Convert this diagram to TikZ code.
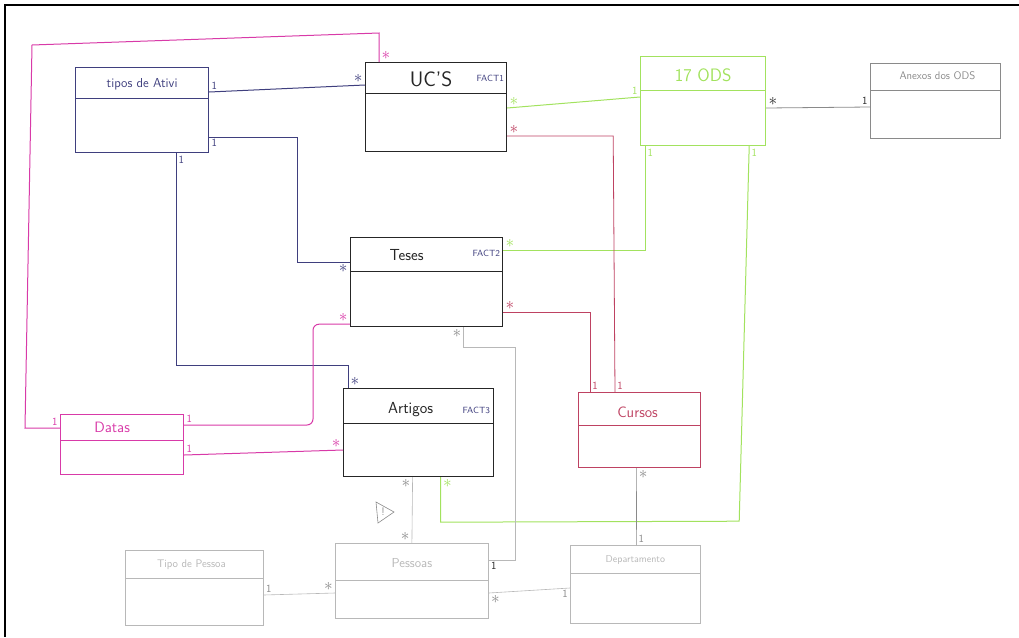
\documentclass[tikz,border=0pt]{standalone}
\usetikzlibrary{calc, positioning}
\definecolor{navyink}{HTML}{3F3F7E}
\definecolor{blackink}{HTML}{262626}
\definecolor{pinkink}{HTML}{D83AA8}
\definecolor{greenink}{HTML}{A2E25E}
\definecolor{redink}{HTML}{BE4262}
\definecolor{grayink}{HTML}{8A8A8A}
\definecolor{paleink}{HTML}{B8B8B8}
\newcommand{\many}{\raisebox{-1.5pt}{\fontsize{16}{16}\selectfont$\ast$}}
\tikzset{
  classbox/.style={draw, line width=1.2pt, anchor=north west, inner sep=0pt},
  classtitle/.style={font=\sffamily\fontsize{#1}{#1}\selectfont, inner sep=1pt},
  facttag/.style={font=\sffamily\fontsize{9}{9}\selectfont, text=navyink, inner sep=1pt},
  mult/.style={font=\sffamily\fontsize{11}{11}\selectfont, inner sep=2pt},
  link/.style={line width=1pt},
}
\begin{document}
\begin{tikzpicture}[x=1pt, y=-1pt]
\useasboundingbox (0,0) rectangle (1019,637);
\draw[line width=2pt] (1019,5) -- (5,5) -- (5,637);

\node[classbox, navyink, minimum width=133, minimum height=85] (tipos) at (75,67) {};
\node[classbox, blackink, minimum width=141, minimum height=89] (ucs) at (365,62) {};
\node[classbox, greenink, minimum width=125, minimum height=89] (ods) at (640,56) {};
\node[classbox, grayink, line width=0.8pt, minimum width=130, minimum height=75] (anexos) at (870,63) {};
\node[classbox, blackink, minimum width=152, minimum height=89] (teses) at (350,237) {};
\node[classbox, blackink, minimum width=150, minimum height=88] (artigos) at (343,388) {};
\node[classbox, pinkink, minimum width=123, minimum height=60] (datas) at (60,414) {};
\node[classbox, redink, minimum width=122, minimum height=75] (cursos) at (578,392) {};
\node[classbox, paleink, line width=0.8pt, minimum width=138, minimum height=75] (tipopes) at (125,550) {};
\node[classbox, paleink, line width=0.8pt, minimum width=153, minimum height=75] (pessoas) at (335,543) {};
\node[classbox, paleink, line width=0.8pt, minimum width=130, minimum height=78] (depto) at (570,545) {};

\foreach \b/\d/\c in {tipos/31/navyink, ucs/31/blackink, ods/34/greenink, anexos/27/grayink,
    teses/34/blackink, artigos/35/blackink, datas/26/pinkink, cursos/33/redink,
    tipopes/28/paleink, pessoas/37/paleink, depto/28/paleink}
  \draw[\c, line width=1pt] ($(\b.north west)+(0,\d)$) -- ($(\b.north east)+(0,\d)$);

\node[classtitle=13, text=navyink] (tipos-t) at ($(tipos.north)+(0,17)$) {tipos de Ativi};
\node[classtitle=21, text=blackink] (ucs-t) at ($(ucs.north)+(-5,17)$) {UC'S};
\node[facttag, anchor=east] (ucs-f) at ($(ucs.north east)+(-2,16)$) {FACT1};
\node[classtitle=18, text=greenink] (ods-t) at ($(ods.north)+(0,19)$) {17 ODS};
\node[classtitle=11, text=grayink] (anexos-t) at ($(anexos.north)+(2,13)$) {Anexos dos ODS};
\node[classtitle=16, text=blackink] (teses-t) at ($(teses.north)+(-20,18)$) {Teses};
\node[facttag, anchor=east] (teses-f) at ($(teses.north east)+(-2,16)$) {FACT2};
\node[classtitle=16, text=blackink] (artigos-t) at ($(artigos.north)+(-8,22)$) {Artigos};
\node[facttag, anchor=east] (artigos-f) at ($(artigos.north east)+(-3,22)$) {FACT3};
\node[classtitle=15, text=pinkink] (datas-t) at ($(datas.north)+(-10,13)$) {Datas};
\node[classtitle=15, text=redink] (cursos-t) at ($(cursos.north)+(-2,20)$) {Cursos};
\node[classtitle=11, text=paleink] (tipopes-t) at ($(tipopes.north)+(-3,15)$) {Tipo de Pessoa};
\node[classtitle=13, text=paleink] (pessoas-t) at ($(pessoas.north)+(0,20)$) {Pessoas};
\node[classtitle=10, text=paleink] (depto-t) at ($(depto.north)+(0,15)$) {Departamento};

% tipos de atividade
\draw[link, navyink] ($(tipos.north east)+(0,25)$) node[mult, above right] (m1a) {1}
    -- ($(ucs.north west)+(0,23)$) node[mult, above left] (m1b) {\many};
\draw[link, navyink] ($(tipos.north east)+(0,70)$) node[mult, below right] (m2a) {1}
    -- ++(88,0) |- ($(teses.north west)+(0,25)$) node[mult, below left] (m2b) {\many};
\draw[link, navyink] ($(tipos.south east)+(-33,0)$) node[mult, below right] (m3a) {1}
    |- ($(artigos.north west)+(5,-23)$)
    -- ($(artigos.north west)+(5,0)$) node[mult, above right] (m3b) {\many};

% datas
\draw[link, pinkink] ($(datas.north west)+(0,14)$) node[mult, above left] (m4a) {1}
    -- (25,428) -- (32,45) -- (379,33)
    -- ($(ucs.north west)+(14,0)$) node[mult, above right] (m4b) {\many};
\draw[link, pinkink, rounded corners=6pt] ($(datas.north east)+(0,11)$) node[mult, above right] (m5a) {1}
    -| ($(teses.south west)+(-37,-3)$)
    -- ($(teses.south west)+(0,-3)$) node[mult, above left] (m5b) {\many};
\draw[link, pinkink] ($(datas.north east)+(0,41)$) node[mult, above right] (m6a) {1}
    -- ($(artigos.north west)+(0,62)$) node[mult, above left] (m6b) {\many};

% 17 ODS
\draw[link, greenink] ($(ucs.north east)+(0,46)$) node[mult, above right] (m7a) {\many}
    -- ($(ods.north west)+(0,41)$) node[mult, above left] (m7b) {1};
\draw[link, greenink] ($(teses.north east)+(0,13)$) node[mult, above right] (m8a) {\many}
    -| ($(ods.south west)+(5,0)$) node[mult, below right] (m8b) {1};
\draw[link, greenink] ($(artigos.south)+(22,0)$) node[mult, below right] (m9a) {\many}
    -- ++(0,45) -- ($(ods.south east)+(-27,375)$)
    -- ($(ods.south east)+(-17,0)$) node[mult, below right] (m9b) {1};
\draw[link, grayink, line width=0.8pt] ($(ods.north east)+(0,52)$) node[mult, above right, text=blackink] (m10a) {\many}
    -- ($(anexos.north west)+(0,44)$) node[mult, above left, text=blackink] (m10b) {1};

% cursos
\draw[link, redink, line width=0.8pt] ($(ucs.north east)+(0,74)$) node[mult, above right] (m11a) {\many}
    -- ++(106,0)
    -- ($(cursos.north west)+(37,0)$) node[mult, above right] (m11b) {1};
\draw[link, redink, line width=0.8pt] ($(teses.north east)+(0,75)$) node[mult, above right] (m12a) {\many}
    -| ($(cursos.north west)+(12,0)$) node[mult, above right] (m12b) {1};
\draw[link, grayink, line width=0.6pt] ($(cursos.south)+(-3,0)$) node[mult, below right] (m13a) {\many}
    -- ($(depto.north)+(1,0)$) node[mult, above right] (m13b) {1};

% pessoas
\draw[link, paleink, line width=0.6pt] ($(teses.south)+(37,0)$) node[mult, below left, text=grayink] (m14a) {\many}
    -- ++(0,20) -- ++(52,0)
    |- ($(pessoas.north east)+(0,17)$) node[mult, below right, text=blackink] (m14b) {1};
\draw[link, paleink, line width=0.6pt] ($(artigos.south)+(-6,0)$) node[mult, below left, text=grayink] (m15a) {\many}
    -- (pessoas.north) node[mult, above left, text=grayink] (m15b) {\many};
\draw[link, paleink, line width=0.6pt] ($(tipopes.north east)+(0,45)$) node[mult, above right, text=grayink] (m16a) {1}
    -- ($(pessoas.north west)+(0,50)$) node[mult, above left, text=grayink] (m16b) {\many};
\draw[link, paleink, line width=0.6pt] ($(pessoas.north east)+(0,50)$) node[mult, below right, text=grayink] (m17a) {\many}
    -- ($(depto.north west)+(0,43)$) node[mult, below left, text=grayink] (m17b) {1};

\draw[grayink, line width=0.6pt] (376,502) -- (394,512) -- (378,523) -- cycle;
\node[mult, text=grayink] (warn) at (383,512) {!};
\end{tikzpicture}
\end{document}
